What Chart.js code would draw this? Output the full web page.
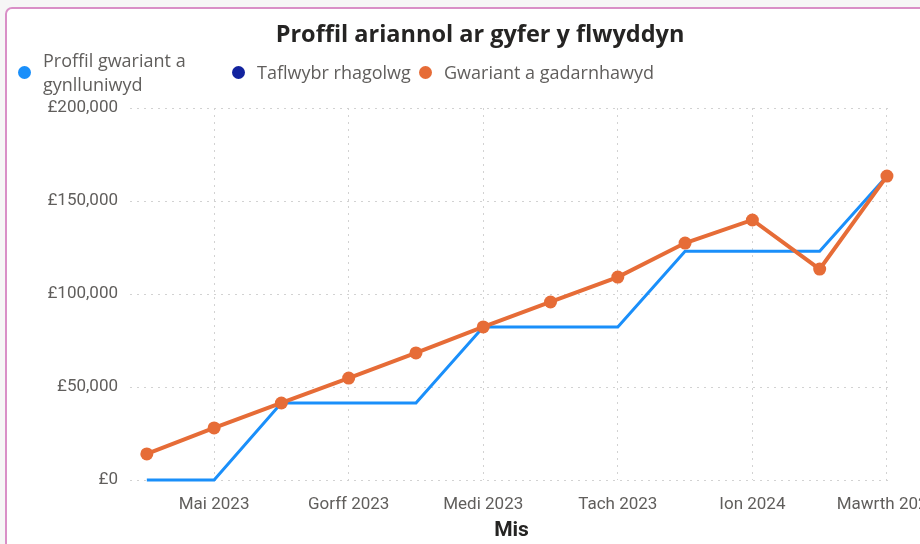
<!DOCTYPE html>
<html>
<head>
<meta charset="utf-8">
<script src="https://cdn.jsdelivr.net/npm/chart.js@4"></script>
<style>
  html, body { margin:0; padding:0; width:920px; height:544px; overflow:hidden; background:#f6f6f6; font-family:"Open Sans", sans-serif }
  .card { position:absolute; left:5px; top:7px; width:980px; height:600px; box-sizing:border-box; border:2px solid #d98fc7; border-radius:7px; background:#fff }
  #wrap { position:absolute; left:0; top:0; width:960px; height:544px }
  #legend { position:absolute; left:0; top:0; width:920px; height:100px; pointer-events:none }
  .li { position:absolute; display:flex; align-items:center; color:#605e5c; font-size:18px; line-height:24px }
  .li i { display:inline-block; width:13px; height:13px; border-radius:50%; margin-right:12px; flex:none }
</style>
</head>
<body>
<div class="card"></div>
<div id="wrap"><canvas id="chart" width="960" height="544"></canvas></div>
<div id="legend"></div>
<script>
const months = ['Ebr 2023','Mai 2023','Meh 2023','Gorff 2023','Awst 2023','Medi 2023','Hyd 2023','Tach 2023','Rhag 2023','Ion 2024','Chwef 2024','Mawrth 2024']
// planned spend profile, steps up each quarter
const planned = [0, 0, 41400, 41400, 41400, 82300, 82300, 82300, 123000, 123000, 123000, 163400]
// confirmed spend
const confirmed = [14000, 28000, 41400, 54800, 68300, 82300, 95700, 109100, 127400, 139800, 113400, 163400]
// forecast trajectory has no values yet
const forecast = []
const yTicks = [0, 50000, 100000, 150000, 200000]

const seriesNames = [['Proffil gwariant a', 'gynlluniwyd'], 'Taflwybr rhagolwg', 'Gwariant a gadarnhawyd']
const seriesColors = ['#1a8ffa', '#12239e', '#e66c37']

const toPts = arr => arr.map((v,i)=>({x:i, y:v}))
const gbp = v => '£' + Number(v).toLocaleString('en-GB')

const gridBorder = {display: false, dash: [2, 5]}

const chart = new Chart(document.getElementById('chart'), {
  type: 'line',
  data: {
    datasets: [
      {label: seriesNames[0].join(' '), data: toPts(planned), borderColor: seriesColors[0], backgroundColor: seriesColors[0], borderWidth: 3, pointRadius: 0, order: 2, tension: 0, clip: 6},
      {label: seriesNames[1], data: toPts(forecast), borderColor: seriesColors[1], backgroundColor: seriesColors[1], borderWidth: 2.5, pointRadius: 0, order: 1},
      {label: seriesNames[2], data: toPts(confirmed), borderColor: seriesColors[2], backgroundColor: seriesColors[2], borderWidth: 4, pointRadius: 6.5, pointBorderWidth: 0, order: 0, tension: 0, clip: 8}
    ]
  },
  options: {
    responsive: false,
    animation: false,
    layout: {padding: 0},
    plugins: {
      legend: {display: false},
      tooltip: {enabled: false},
      title: {
        display: true,
        text: 'Proffil ariannol ar gyfer y flwyddyn',
        color: '#252423',
        font: {family: 'Open Sans', size: 23.5, weight: 'bold'},
        padding: {top: 21, bottom: 58.8}
      }
    },
    scales: {
      x: {
        type: 'linear',
        min: -0.25,
        max: 11.09,
        afterBuildTicks: s => { s.ticks = months.map((m,i)=>({value:i})).filter(t=>t.value % 2 === 1) },
        // keep the plot edge clear of the right side so the last label runs off
        afterFit: s => { s.height = 64; s.paddingRight = 67 },
        border: gridBorder,
        grid: {color: '#d2d2d2', drawTicks: false, lineWidth: 1},
        ticks: {
          autoSkip: false, maxRotation: 0, padding: 15, color: '#605e5c',
          font: {family: 'Roboto', size: 17},
          callback: v => months[v]
        },
        title: {display: true, text: 'Mis', color: '#252423', font: {family: 'Roboto', size: 21, weight: 'bold'}, padding: {top: 0, bottom: 1}}
      },
      y: {
        min: 0,
        max: 200000,
        afterBuildTicks: s => { s.ticks = yTicks.map(v=>({value:v})) },
        afterFit: s => { s.width = 130 },
        border: gridBorder,
        grid: {color: '#d2d2d2', drawTicks: false, lineWidth: 1},
        ticks: {padding: 12, color: '#605e5c', font: {family: 'Roboto', size: 17}, callback: v => gbp(v)}
      }
    }
  }
})

// legend in html so the first label can wrap onto two lines
const legendLeft = [18, 232, 419]
const legendEl = document.getElementById('legend')
chart.data.datasets.forEach((ds, i) => {
  const item = document.createElement('div')
  item.className = 'li'
  item.style.left = legendLeft[i] + 'px'
  const name = seriesNames[i]
  const lines = Array.isArray(name) ? name : [name]
  item.style.top = (72 - lines.length * 24 / 2) + 'px'
  const dot = document.createElement('i')
  dot.style.background = seriesColors[i]
  const txt = document.createElement('span')
  txt.innerHTML = lines.join('<br>')
  item.appendChild(dot)
  item.appendChild(txt)
  legendEl.appendChild(item)
})
</script>
</body>
</html>
